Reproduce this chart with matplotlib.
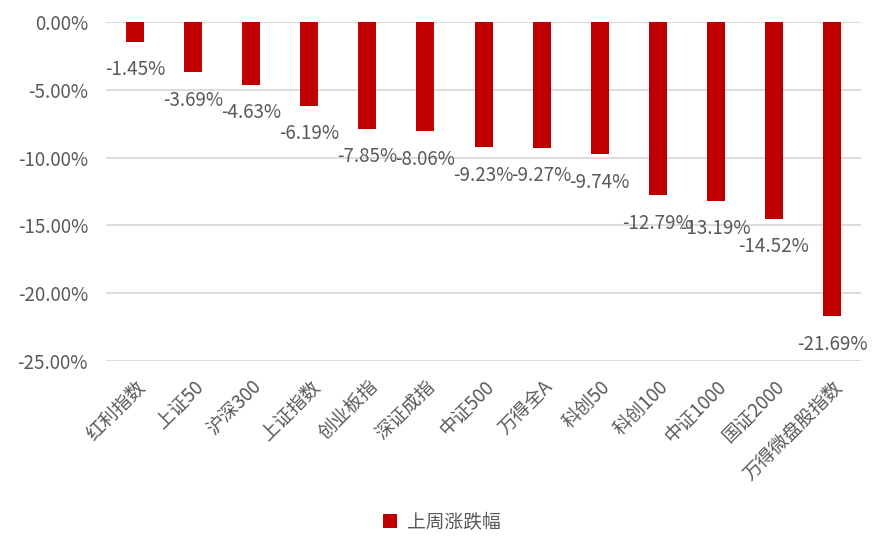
import matplotlib.pyplot as plt
from matplotlib.ticker import FuncFormatter

plt.rcParams['font.family'] = ['Noto Sans CJK SC', 'DejaVu Sans']

# Data
categories = ["红利指数", "上证50", "沪深300", "上证指数", "创业板指", "深证成指", "中证500",
              "万得全A", "科创50", "科创100", "中证1000", "国证2000", "万得微盘股指数"]
weekly_change = [-1.45, -3.69, -4.63, -6.19, -7.85, -8.06, -9.23,
                 -9.27, -9.74, -12.79, -13.19, -14.52, -21.69]
series_name = "上周涨跌幅"

text_color = "#595959"
bar_color = "#C00000"
fs = 13.5

fig = plt.figure(figsize=(8.84, 5.52), dpi=100)
ax = fig.add_axes([0.12, 0.346, 0.854, 0.614])

x = range(len(categories))
bars = ax.bar(x, weekly_change, width=0.31, color=bar_color, label=series_name, zorder=3)

# Data labels below bar ends
for xi, v in zip(x, weekly_change):
    ax.annotate(f"{v:.2f}%", xy=(xi, v), xytext=(0, -28), textcoords="offset pixels",
                ha="center", va="center", fontsize=fs, color=text_color, zorder=4)

ax.set_ylim(-25, 0)
ax.set_xlim(-0.5, len(categories) - 0.5)
ax.set_yticks([0, -5, -10, -15, -20, -25])
ax.yaxis.set_major_formatter(FuncFormatter(lambda v, p: f"{v:.2f}%"))
ax.grid(axis="y", color="#D9D9D9", linewidth=1.3, zorder=0)
ax.set_axisbelow(True)

for s in ax.spines.values():
    s.set_visible(False)

ax.tick_params(axis="y", length=0, pad=13, labelsize=fs, labelcolor=text_color)
ax.tick_params(axis="x", length=0, pad=11, labelsize=fs, labelcolor=text_color)
ax.set_xticks(list(x))
ax.set_xticklabels(categories, rotation=45, ha="right", rotation_mode="anchor")

fig.legend(handles=[bars], labels=[series_name], loc="center", bbox_to_anchor=(0.5, 0.054),
           frameon=False, fontsize=fs, labelcolor=text_color, handlelength=0.75,
           handleheight=0.75, handletextpad=0.5)

fig.savefig("out.png", dpi=100)
